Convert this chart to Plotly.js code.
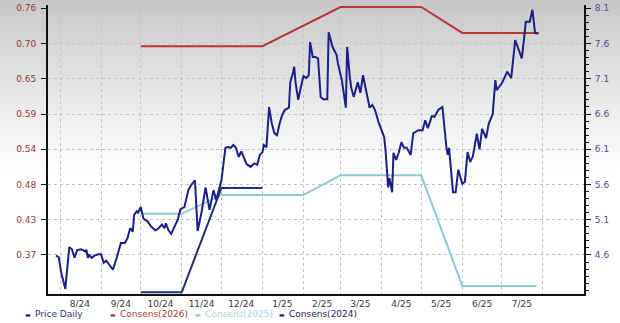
<!DOCTYPE html>
<html>
<head>
<meta charset="utf-8">
<script src="https://cdn.plot.ly/plotly-3.0.1.min.js"></script>
<style>
  html, body { margin: 0; padding: 0; }
  body { width: 620px; height: 323px; overflow: hidden;
         background: linear-gradient(to bottom, #c8c8c8 0px, #e6e6e6 90px, #ffffff 175px, #ffffff 323px); }
  #chart { width: 620px; height: 323px; }
</style>
</head>
<body>
<div id="chart"></div>
<script>
// ---------- data ----------
const priceDates = [
'2024-07-29','2024-07-31','2024-08-02','2024-08-05','2024-08-08','2024-08-10','2024-08-12','2024-08-14','2024-08-17','2024-08-20','2024-08-21','2024-08-22','2024-08-23','2024-08-25','2024-08-27','2024-08-30',
'2024-09-01','2024-09-03','2024-09-05','2024-09-08','2024-09-10','2024-09-13','2024-09-16','2024-09-19','2024-09-21','2024-09-23','2024-09-25','2024-09-26','2024-09-28','2024-09-29',
'2024-10-01','2024-10-03','2024-10-04','2024-10-06','2024-10-09','2024-10-12','2024-10-14','2024-10-17','2024-10-19','2024-10-20','2024-10-22','2024-10-24','2024-10-26','2024-10-29','2024-10-31',
'2024-11-03','2024-11-06','2024-11-08','2024-11-11','2024-11-13','2024-11-16','2024-11-19','2024-11-22','2024-11-25','2024-11-27','2024-11-30',
'2024-12-01','2024-12-04','2024-12-06','2024-12-08','2024-12-10','2024-12-12','2024-12-14','2024-12-16','2024-12-18','2024-12-20','2024-12-23','2024-12-26','2024-12-28','2024-12-30',
'2025-01-01','2025-01-02','2025-01-04','2025-01-06','2025-01-08','2025-01-10','2025-01-12','2025-01-14','2025-01-16','2025-01-18','2025-01-21','2025-01-22','2025-01-24','2025-01-25','2025-01-26','2025-01-28','2025-01-30',
'2025-02-01','2025-02-03','2025-02-05','2025-02-06','2025-02-08','2025-02-10','2025-02-12','2025-02-14','2025-02-16','2025-02-19','2025-02-20','2025-02-23','2025-02-26','2025-02-27',
'2025-03-02','2025-03-05','2025-03-06','2025-03-08','2025-03-09','2025-03-11','2025-03-13','2025-03-14','2025-03-16','2025-03-18','2025-03-21','2025-03-23','2025-03-25','2025-03-27','2025-03-30',
'2025-04-01','2025-04-03','2025-04-04','2025-04-06','2025-04-07','2025-04-09','2025-04-10','2025-04-12','2025-04-14','2025-04-16','2025-04-18','2025-04-20','2025-04-23','2025-04-25','2025-04-29',
'2025-05-02','2025-05-04','2025-05-06','2025-05-09','2025-05-11','2025-05-14','2025-05-17','2025-05-20','2025-05-21','2025-05-22','2025-05-25','2025-05-27','2025-05-29',
'2025-06-01','2025-06-03','2025-06-05','2025-06-07','2025-06-09','2025-06-12','2025-06-14','2025-06-16','2025-06-19','2025-06-21','2025-06-24','2025-06-26','2025-06-27',
'2025-07-01','2025-07-05','2025-07-08','2025-07-11','2025-07-13','2025-07-16','2025-07-18','2025-07-19','2025-07-22','2025-07-24','2025-07-26','2025-07-28'
];
const priceValues = [
4.59,4.57,4.34,4.12,4.71,4.68,4.56,4.67,4.68,4.65,4.67,4.56,4.60,4.56,4.59,4.61,
4.61,4.49,4.52,4.43,4.39,4.57,4.77,4.77,4.84,4.98,4.93,5.17,5.22,5.20,
5.28,5.12,5.10,5.08,5.00,4.95,4.97,5.03,4.98,5.05,4.95,4.90,4.98,5.10,5.25,
5.28,5.52,5.59,5.66,4.94,5.21,5.56,5.24,5.52,5.38,5.62,
5.66,6.12,6.13,6.12,6.16,6.12,5.99,6.07,5.98,5.89,5.85,5.90,5.88,6.02,
6.06,6.16,6.13,6.70,6.47,6.33,6.30,6.47,6.59,6.66,6.69,7.05,7.18,7.27,7.05,6.80,6.98,
7.14,7.11,7.15,7.62,7.41,7.41,7.39,6.84,6.81,6.81,7.76,7.55,7.44,7.32,
7.08,6.69,7.55,7.13,6.98,6.84,6.97,7.05,6.90,7.15,6.87,6.69,6.73,6.66,6.47,
6.37,6.27,6.09,5.56,5.69,5.49,6.05,5.95,6.05,6.20,6.12,6.12,6.02,6.33,6.37,
6.37,6.51,6.40,6.57,6.56,6.66,6.70,6.13,6.02,6.12,5.49,5.49,5.81,
5.61,5.64,6.06,5.92,6.00,6.32,6.10,6.39,6.26,6.46,6.60,7.08,6.94,
7.04,7.20,7.11,7.65,7.54,7.39,7.72,7.91,7.91,8.08,7.75,7.74
];

const cons2026Dates  = ['2024-10-01','2025-01-01','2025-03-01','2025-05-01','2025-06-01','2025-07-29'];
const cons2026Values = [0.700, 0.700, 0.762, 0.762, 0.721, 0.721];

const cons2025Dates  = ['2024-10-01','2024-11-01','2024-12-01','2025-02-01','2025-03-01','2025-05-01','2025-06-01','2025-07-27'];
const cons2025Values = [0.435, 0.435, 0.465, 0.465, 0.496, 0.496, 0.321, 0.321];

const cons2024Dates  = ['2024-10-01','2024-11-01','2024-12-01','2025-01-01'];
const cons2024Values = [0.311, 0.311, 0.476, 0.476];

const monthTickDates = ['2024-08-16','2024-09-16','2024-10-16','2024-11-16','2024-12-16','2025-01-16',
                        '2025-02-15','2025-03-16','2025-04-16','2025-05-16','2025-06-16','2025-07-16'];
const monthTickText  = ['8/24','9/24','10/24','11/24','12/24','1/25','2/25','3/25','4/25','5/25','6/25','7/25'];

// left (EPS) axis tick labels and right (price) axis tick labels
const epsTickText   = ['0.37','0.43','0.48','0.54','0.59','0.65','0.70','0.76'];
const priceTickText = ['4.6','5.1','5.6','6.1','6.6','7.1','7.6','8.1'];

const seriesNames  = ['Price Daily','Consens(2026)','Consens(2025)','Consens(2024)'];
const seriesColors = ['#1b1f8a','#b23a32','#8fcad9','#262a78'];
const legendTextColors = ['#2e3a78','#b03a34','#a9d6e4','#1e2456'];

// ---------- chart ----------
const epsStep = 0.39 / 7;
const epsTickVals = epsTickText.map((t, i) => 0.37 + epsStep * i);
const priceTickVals = priceTickText.map(t => parseFloat(t));

const traces = [
  { x: cons2025Dates, y: cons2025Values, yaxis: 'y', type: 'scatter', mode: 'lines',
    name: seriesNames[2], line: { color: seriesColors[2], width: 2 } },
  { x: cons2026Dates, y: cons2026Values, yaxis: 'y', type: 'scatter', mode: 'lines',
    name: seriesNames[1], line: { color: seriesColors[1], width: 2 } },
  { x: cons2024Dates, y: cons2024Values, yaxis: 'y', type: 'scatter', mode: 'lines',
    name: seriesNames[3], line: { color: seriesColors[3], width: 2 } },
  { x: priceDates, y: priceValues, yaxis: 'y2', type: 'scatter', mode: 'lines',
    name: seriesNames[0], line: { color: seriesColors[0], width: 2 } }
];

const legendX = [23, 108, 193, 277];   // pixel positions of legend dashes
const plotL = 48, plotW = 536;
const annotations = [];
seriesNames.forEach((n, i) => {
  annotations.push({
    xref: 'paper', yref: 'paper', x: (legendX[i] - plotL) / plotW, y: -0.07,
    xanchor: 'left', yanchor: 'middle', showarrow: false,
    text: '<span style="color:' + seriesColors[i] + '">▬</span>',
    font: { family: 'DejaVu Sans', size: 6, color: seriesColors[i] }
  });
  annotations.push({
    xref: 'paper', yref: 'paper', x: (legendX[i] + 10 - plotL) / plotW, y: -0.07,
    xanchor: 'left', yanchor: 'middle', showarrow: false,
    text: n, font: { family: 'DejaVu Sans', size: 9, color: legendTextColors[i] }
  });
});

const layout = {
  width: 620, height: 323,
  margin: { l: 48, r: 36, t: 5, b: 29 },
  paper_bgcolor: 'rgba(0,0,0,0)',
  plot_bgcolor: 'rgba(0,0,0,0)',
  showlegend: false,
  font: { family: 'DejaVu Sans', size: 9, color: '#333' },
  xaxis: {
    type: 'date',
    range: ['2024-07-22 22:00', '2025-09-01'],
    tickmode: 'array', tickvals: monthTickDates, ticktext: monthTickText,
    ticks: '', showgrid: false, zeroline: false,
    showline: true, linecolor: '#111', linewidth: 2,
    tickfont: { color: '#3a3a3a', size: 9 },
    minor: { dtick: 'M1', tick0: '2024-08-01', showgrid: true, gridcolor: '#c4c4c4', griddash: 'dot', gridwidth: 1, ticks: '' }
  },
  yaxis: {
    range: [0.3083, 0.7652],
    tickmode: 'array', tickvals: epsTickVals, ticktext: epsTickText,
    ticks: 'outside', ticklen: 5, tickcolor: '#111', tickwidth: 1,
    ticklabelstandoff: 3,
    showline: true, linecolor: '#111', linewidth: 2,
    showgrid: true, gridcolor: '#c4c4c4', griddash: 'dot', gridwidth: 1,
    zeroline: false,
    tickfont: { color: '#8e3b3b', size: 9 }
  },
  yaxis2: {
    overlaying: 'y', side: 'right',
    range: [4.046, 8.147],
    tickmode: 'array', tickvals: priceTickVals, ticktext: priceTickText,
    ticks: 'outside', ticklen: 5, tickcolor: '#111', tickwidth: 1,
    ticklabelstandoff: 2,
    showline: true, linecolor: '#111', linewidth: 2,
    showgrid: false, zeroline: false,
    minor: { tickmode: 'linear', tick0: 4.1, dtick: 0.1, ticks: 'outside', ticklen: 3, tickcolor: '#111', showgrid: false },
    tickfont: { color: '#4b4b98', size: 9 }
  },
  annotations: annotations
};

Plotly.newPlot('chart', traces, layout, { displayModeBar: false, staticPlot: true });
</script>
</body>
</html>
